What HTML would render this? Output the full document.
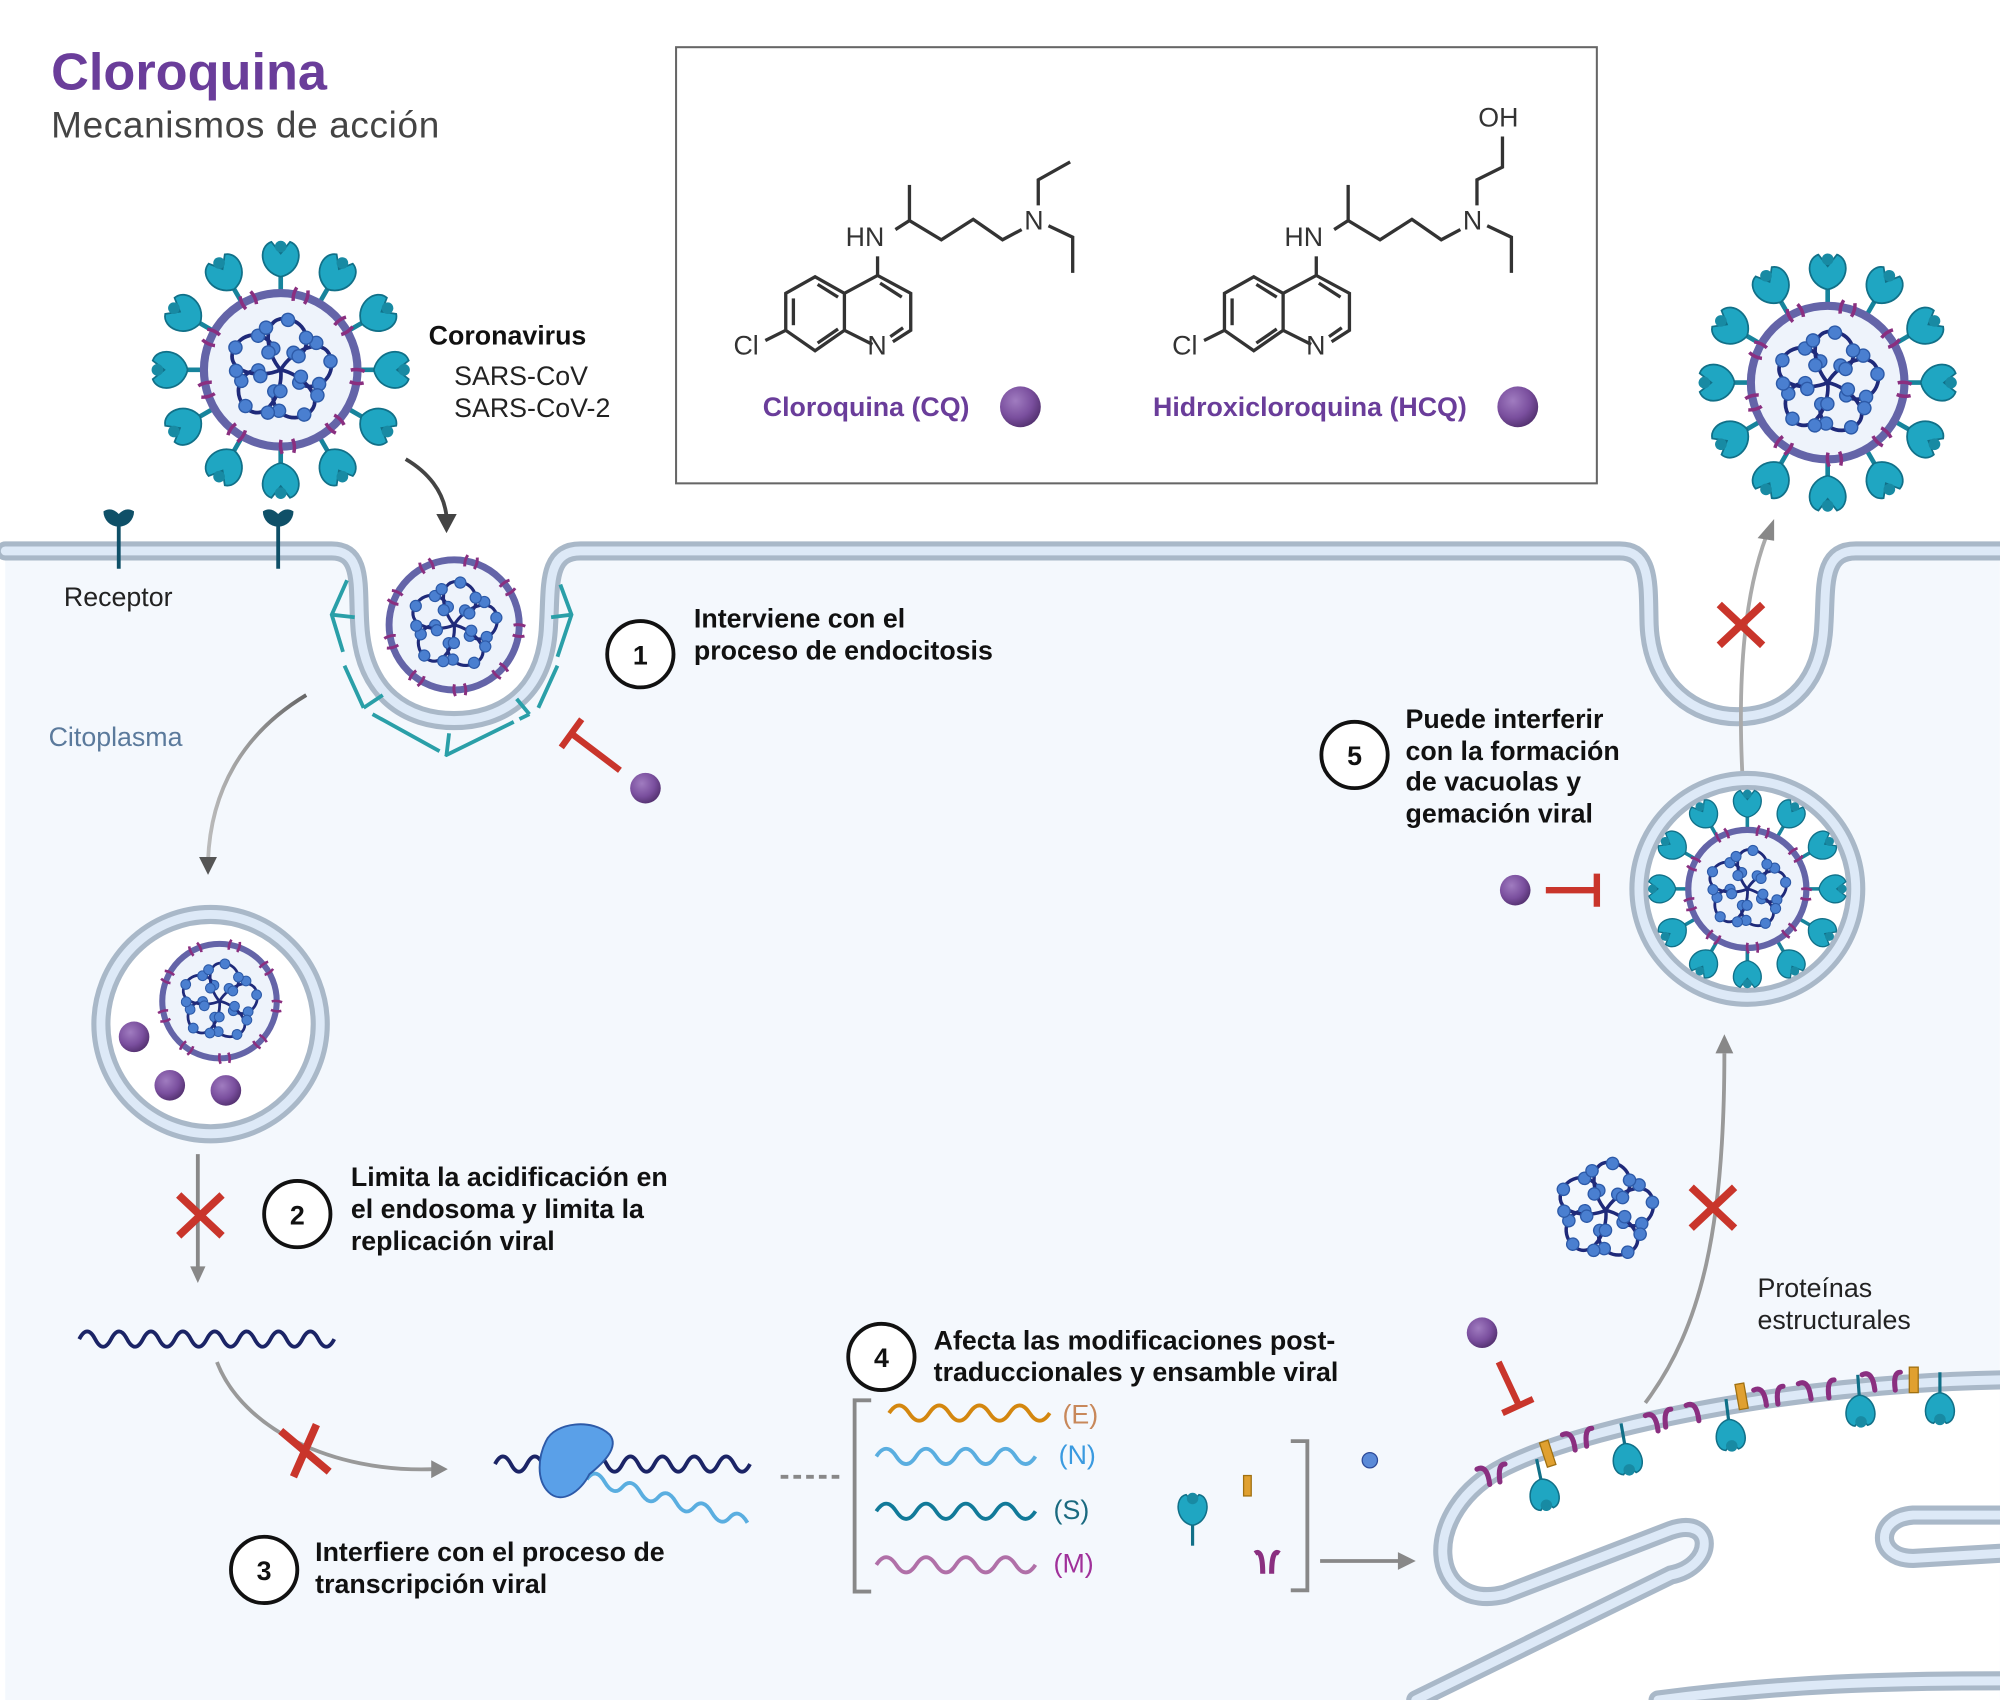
<!DOCTYPE html>
<html><head><meta charset="utf-8"><style>
html,body{margin:0;padding:0;background:#fff}
svg{display:block}
text{font-family:"Liberation Sans",sans-serif}
.b{font-weight:bold;font-size:21px;fill:#111}
.n{font-size:21px;fill:#222}
</style></head><body>
<svg width="2000" height="1700" viewBox="0 0 1568 1333" xmlns="http://www.w3.org/2000/svg">
<defs>
<radialGradient id="ball" cx="0.38" cy="0.35" r="0.7">
<stop offset="0" stop-color="#a07cc0"/><stop offset="0.6" stop-color="#7a4f9e"/><stop offset="1" stop-color="#52306e"/>
</radialGradient>
<linearGradient id="fadeL" x1="0" y1="0" x2="1" y2="0"><stop offset="0" stop-color="#bbb"/><stop offset="1" stop-color="#666"/></linearGradient>
<symbol id="rna" viewBox="-45 -45 90 90">
<g id="pet">
<path d="M0,0 C8,-14 30,-24 35,-9 C39,5 26,16 14,10" stroke="#1f2a7a" stroke-width="2.6" fill="none"/>
<g fill="#4a7fd0" stroke="#2d5aa8" stroke-width="1"><circle cx="9" cy="-12" r="4.6"/><circle cx="25" cy="-19" r="4.6"/><circle cx="35" cy="-6" r="4.6"/><circle cx="27" cy="10" r="4.6"/><circle cx="13" cy="9" r="4.6"/></g>
</g>
<use href="#pet" transform="rotate(72)"/><use href="#pet" transform="rotate(144)"/><use href="#pet" transform="rotate(216)"/><use href="#pet" transform="rotate(288)"/>
</symbol>
<g id="spk">
<line x1="0" y1="-64" x2="0" y2="-86" stroke="#17849c" stroke-width="4"/>
<path d="M0,-80 C-18,-84 -20,-106 -8,-110 L0,-100 L8,-110 C20,-106 18,-84 0,-80Z" fill="#1fa6c2" stroke="#117088" stroke-width="1.5"/>
<circle cx="0" cy="-106" r="5" fill="#188aa3"/>
</g>
<g id="mk"><path d="M-5,-72 q-2,6 0,12 M5,-72 q2,6 0,12" stroke="#8a2f80" stroke-width="3" fill="none"/></g>
<symbol id="bare" viewBox="-75 -75 150 150">
<circle r="66" fill="#eef3fb" stroke="#6464a8" stroke-width="7"/>
<g transform="rotate(15)"><use href="#mk"/><use href="#mk" transform="rotate(40)"/><use href="#mk" transform="rotate(80)"/><use href="#mk" transform="rotate(120)"/><use href="#mk" transform="rotate(160)"/><use href="#mk" transform="rotate(200)"/><use href="#mk" transform="rotate(240)"/><use href="#mk" transform="rotate(280)"/><use href="#mk" transform="rotate(320)"/></g>
<use href="#rna" x="-55" y="-55" width="110" height="110"/>
</symbol>
<symbol id="vir" viewBox="-114 -114 228 228">
<use href="#spk"/><use href="#spk" transform="rotate(30)"/><use href="#spk" transform="rotate(60)"/><use href="#spk" transform="rotate(90)"/><use href="#spk" transform="rotate(120)"/><use href="#spk" transform="rotate(150)"/><use href="#spk" transform="rotate(180)"/><use href="#spk" transform="rotate(210)"/><use href="#spk" transform="rotate(240)"/><use href="#spk" transform="rotate(270)"/><use href="#spk" transform="rotate(300)"/><use href="#spk" transform="rotate(330)"/>
<use href="#bare" x="-75" y="-75" width="150" height="150"/>
</symbol>
<g id="ersp">
<line x1="0" y1="-6" x2="0" y2="12" stroke="#117088" stroke-width="2.5"/>
<path d="M0,10 C-13,12 -15,32 -5,34 L0,28 L5,34 C15,32 13,12 0,10Z" fill="#1fa6c2" stroke="#117088" stroke-width="1.2"/>
<circle cx="0" cy="31" r="4.5" fill="#188aa3"/>
</g>
<g id="mol" stroke="#333" stroke-width="2.6" fill="none">
<polygon points="616,230 639,217 662,230 662,259 639,275 616,259"/>
<polyline points="662,230 688,216 714,230 714,259 700,268"/>
<polyline points="684,270 662,259"/>
<line x1="622" y1="234" x2="622" y2="255"/><line x1="641" y1="223" x2="657" y2="233"/><line x1="641" y1="269" x2="657" y2="258"/>
<line x1="690" y1="222" x2="707" y2="233"/><line x1="708" y1="257" x2="698" y2="264"/>
<line x1="616" y1="259" x2="600" y2="267"/>
<line x1="688" y1="216" x2="688" y2="201"/>
<polyline points="702,180 713,173 738,188 763,172 786,188 801,180"/>
<line x1="713" y1="173" x2="713" y2="145"/>
<polyline points="822,177 841,186 841,214"/>
</g>
</defs>

<path d="M4,432 H260 C285,432 280,460 282,490 C285,545 320,565 356,565 C392,565 428,545 430,490 C432,460 428,432 455,432 H1270 C1295,432 1292,460 1293,490 C1295,540 1330,562 1362,562 C1397,562 1428,540 1430,490 C1432,460 1428,432 1455,432 H1568 V1333 H4 Z" fill="#f4f8fd"/>
<path d="M1568,1082 C1400,1085 1240,1120 1180,1150 C1110,1185 1120,1265 1180,1250 L1310,1200 C1345,1188 1345,1228 1310,1235 L1110,1333 H1568 Z" fill="#fff"/>
<g fill="none" stroke-linecap="round">
<g stroke="#a9b8c8" stroke-width="15">
<path d="M4,432 H260 C285,432 280,460 282,490 C285,545 320,565 356,565 C392,565 428,545 430,490 C432,460 428,432 455,432 H1270 C1295,432 1292,460 1293,490 C1295,540 1330,562 1362,562 C1397,562 1428,540 1430,490 C1432,460 1428,432 1455,432 H1568"/>
<path d="M1568,1082 C1400,1085 1240,1120 1180,1150 C1110,1185 1120,1265 1180,1250 L1310,1200 C1345,1188 1345,1228 1310,1235 L1110,1333"/>
<path d="M1568,1188 L1500,1188 C1470,1190 1470,1222 1500,1222 L1568,1218"/>
<path d="M1300,1333 C1400,1320 1480,1318 1568,1318"/>
</g>
<g stroke="#dde9f7" stroke-width="7">
<path d="M4,432 H260 C285,432 280,460 282,490 C285,545 320,565 356,565 C392,565 428,545 430,490 C432,460 428,432 455,432 H1270 C1295,432 1292,460 1293,490 C1295,540 1330,562 1362,562 C1397,562 1428,540 1430,490 C1432,460 1428,432 1455,432 H1568"/>
<path d="M1568,1082 C1400,1085 1240,1120 1180,1150 C1110,1185 1120,1265 1180,1250 L1310,1200 C1345,1188 1345,1228 1310,1235 L1110,1333"/>
<path d="M1568,1188 L1500,1188 C1470,1190 1470,1222 1500,1222 L1568,1218"/>
<path d="M1300,1333 C1400,1320 1480,1318 1568,1318"/>
</g>
</g>
<g stroke="#2a9fa8" stroke-width="3" fill="none">
<path d="M272,455 L260,482 L270,515 M270,522 L285,555 M292,560 L350,592 L415,560 M422,555 L437,522 M437,515 L448,482 L438,455" stroke-dasharray="60 5"/>
<path d="M260,482 L278,484 M285,555 L300,545 M350,592 L352,575 M415,560 L405,548 M448,482 L432,484"/>
</g>

<text x="40" y="70" style="font-size:41px;font-weight:bold;fill:#6a3d9a">Cloroquina</text>
<text x="40" y="108" style="font-size:29px;fill:#444;letter-spacing:0.5px">Mecanismos de acción</text>

<rect x="530" y="37" width="722" height="342" fill="#fff" stroke="#666" stroke-width="1.6"/>
<use href="#mol"/>
<g stroke="#333" stroke-width="2.6" fill="none"><polyline points="814,161 814,141 839,127"/></g>
<use href="#mol" transform="translate(344,0)"/>
<g stroke="#333" stroke-width="2.6" fill="none"><polyline points="1158,161 1158,141 1178,131 1178,107"/></g>
<g style="font-size:21px;fill:#333">
<text x="575" y="278">Cl</text><text x="680" y="278">N</text><text x="663" y="193">HN</text><text x="803" y="180">N</text>
<text x="919" y="278">Cl</text><text x="1024" y="278">N</text><text x="1007" y="193">HN</text><text x="1147" y="180">N</text>
<text x="1159" y="99">OH</text>
</g>
<text x="598" y="326" class="b" style="fill:#6a3d9a">Cloroquina (CQ)</text>
<circle cx="800" cy="319" r="16" fill="url(#ball)"/>
<text x="904" y="326" class="b" style="fill:#6a3d9a">Hidroxicloroquina (HCQ)</text>
<circle cx="1190" cy="319" r="16" fill="url(#ball)"/>

<use href="#vir" x="116" y="186" width="208" height="208"/>
<use href="#vir" x="1329" y="196" width="208" height="208"/>
<use href="#bare" x="298" y="432" width="116" height="116"/>
<text x="336" y="270" class="b">Coronavirus</text>
<text x="356" y="302" class="n">SARS-CoV</text>
<text x="356" y="327" class="n">SARS-CoV-2</text>

<g stroke="#0f5068" stroke-width="3" fill="none">
<line x1="93" y1="408" x2="93" y2="446"/><line x1="218" y1="408" x2="218" y2="446"/>
</g>
<path d="M81,401 A12,12 0 0 0 105,401 Q99,397 93,403 Q87,397 81,401Z" fill="#0f5068"/>
<path d="M206,401 A12,12 0 0 0 230,401 Q224,397 218,403 Q212,397 206,401Z" fill="#0f5068"/>
<text x="50" y="475" class="n">Receptor</text>
<text x="38" y="585" style="font-size:21px;fill:#5b7a9c">Citoplasma</text>

<g fill="none" stroke-width="3">
<path d="M318,360 C335,370 348,385 350,405" stroke="#444"/>
<path d="M240,545 C190,575 165,620 163,675" stroke="url(#fadeL)"/>
<path d="M155,905 V995" stroke="#888"/>
<path d="M170,1068 C190,1120 260,1155 340,1152" stroke="#999"/>
<path d="M612,1158 H662" stroke="#888" stroke-dasharray="6 4"/>
<path d="M1035,1224 H1098" stroke="#888"/>
<path d="M1290,1100 C1335,1040 1352,960 1352,826" stroke="#999"/>
<path d="M1366,605 C1362,520 1370,460 1385,420" stroke="#aaa"/>
</g>
<g fill="#444"><path d="M342,403 L358,403 L350,418Z"/></g>
<g fill="#555"><path d="M156,672 L170,672 L163,686Z"/></g>
<g fill="#888"><path d="M149,993 L161,993 L155,1006Z"/><path d="M338,1145 L338,1159 L351,1152Z"/><path d="M1096,1217 L1096,1231 L1110,1224Z"/><path d="M1345,826 L1359,826 L1352,811Z"/><path d="M1378,422 L1391,424 L1391,407Z"/></g>
<g stroke="#c9352b" stroke-width="6">
<path d="M140,937 L174,969 M174,937 L140,969"/>
<path d="M220,1122 L258,1154 M230,1158 L248,1117"/>
<path d="M1348,474 L1382,506 M1382,474 L1348,506"/>
<path d="M1326,931 L1360,963 M1360,931 L1326,963"/>
</g>
<g stroke="#c9352b" stroke-width="5" fill="none">
<path d="M449,576 L486,604 M440,586 L456,564"/>
<path d="M1212,698 H1250 M1252,685 V711"/>
<path d="M1175,1068 L1190,1100 M1178,1108 L1202,1097"/>
</g>
<circle cx="506" cy="618" r="12" fill="url(#ball)"/>
<circle cx="1188" cy="698" r="12" fill="url(#ball)"/>
<circle cx="1162" cy="1045" r="12" fill="url(#ball)"/>

<circle cx="165" cy="803" r="86" fill="#fff" stroke="#a9b8c8" stroke-width="15"/>
<circle cx="165" cy="803" r="86" fill="none" stroke="#dde9f7" stroke-width="7"/>
<use href="#bare" x="121" y="734" width="102" height="102"/>
<circle cx="105" cy="813" r="12" fill="url(#ball)"/><circle cx="133" cy="851" r="12" fill="url(#ball)"/><circle cx="177" cy="855" r="12" fill="url(#ball)"/>

<circle cx="1370" cy="697" r="85" fill="#fff" stroke="#a9b8c8" stroke-width="15"/>
<circle cx="1370" cy="697" r="85" fill="none" stroke="#dde9f7" stroke-width="7"/>
<use href="#vir" x="1290" y="617" width="160" height="160"/>

<use href="#rna" x="1212" y="902" width="94" height="94"/>

<g fill="#fff" stroke="#111" stroke-width="3">
<circle cx="502" cy="513" r="26"/><circle cx="233" cy="952" r="26"/><circle cx="207" cy="1231" r="26"/><circle cx="691" cy="1064" r="26"/><circle cx="1062" cy="592" r="26"/>
</g>
<g class="b" text-anchor="middle" style="font-weight:bold;font-size:21px">
<text x="502" y="521">1</text><text x="233" y="960">2</text><text x="207" y="1239">3</text><text x="691" y="1072">4</text><text x="1062" y="600">5</text>
</g>
<text class="b"><tspan x="544" y="492">Interviene con el</tspan><tspan x="544" y="517">proceso de endocitosis</tspan></text>
<text class="b"><tspan x="275" y="930">Limita la acidificación en</tspan><tspan x="275" y="955">el endosoma y limita la</tspan><tspan x="275" y="980">replicación viral</tspan></text>
<text class="b"><tspan x="247" y="1224">Interfiere con el proceso de</tspan><tspan x="247" y="1249">transcripción viral</tspan></text>
<text class="b"><tspan x="732" y="1058">Afecta las modificaciones post-</tspan><tspan x="732" y="1083">traduccionales  y ensamble viral</tspan></text>
<text class="b"><tspan x="1102" y="571">Puede interferir</tspan><tspan x="1102" y="596">con la formación</tspan><tspan x="1102" y="620">de vacuolas y</tspan><tspan x="1102" y="645">gemación viral</tspan></text>
<text class="n"><tspan x="1378" y="1017">Proteínas</tspan><tspan x="1378" y="1042">estructurales</tspan></text>

<g fill="none" stroke-width="3">
<path d="M62,1050 q6.25,-12 12.5,0 t12.5,0 t12.5,0 t12.5,0 t12.5,0 t12.5,0 t12.5,0 t12.5,0 t12.5,0 t12.5,0 t12.5,0 t12.5,0 t12.5,0 t12.5,0 t12.5,0 t12.5,0" stroke="#1b2466"/>
<path d="M388,1148 q6.25,-12 12.5,0 t12.5,0 t12.5,0 t12.5,0 t12.5,0 t12.5,0 t12.5,0 t12.5,0 t12.5,0 t12.5,0 t12.5,0 t12.5,0 t12.5,0 t12.5,0 t12.5,0 t12.5,0" stroke="#1b2466"/>
<path d="M460,1160 q7,-10 14,2 t14,4 t14,4 t14,4 t14,4 t14,4 t14,4 t14,4 t14,4" stroke="#5aaee0"/>
<path d="M697,1108 q7.9,-12 15.75,0 t15.75,0 t15.75,0 t15.75,0 t15.75,0 t15.75,0 t15.75,0 t15.75,0" stroke="#d4870f"/>
<path d="M687,1142 q7.8,-12 15.6,0 t15.6,0 t15.6,0 t15.6,0 t15.6,0 t15.6,0 t15.6,0 t15.6,0" stroke="#5aaee0"/>
<path d="M687,1185 q7.8,-12 15.6,0 t15.6,0 t15.6,0 t15.6,0 t15.6,0 t15.6,0 t15.6,0 t15.6,0" stroke="#117a99"/>
<path d="M687,1227 q7.8,-12 15.6,0 t15.6,0 t15.6,0 t15.6,0 t15.6,0 t15.6,0 t15.6,0 t15.6,0" stroke="#b070a8"/>
</g>
<path d="M428,1130 C435,1115 465,1112 478,1125 C486,1135 472,1148 462,1156 C455,1170 440,1180 430,1170 C420,1160 422,1142 428,1130Z" fill="#5aa0e8" stroke="#2d5aa8" stroke-width="1.5"/>
<g style="font-size:21px">
<text x="833" y="1116" style="fill:#c8885a">(E)</text>
<text x="830" y="1148" style="fill:#3a9ae0">(N)</text>
<text x="826" y="1191" style="fill:#1a6a80">(S)</text>
<text x="826" y="1233" style="fill:#a0309a">(M)</text>
</g>
<g stroke="#888" stroke-width="3" fill="none">
<path d="M683,1098 H670 V1248 H683"/><path d="M1012,1130 H1025 V1247 H1012"/>
</g>
<use href="#ersp" transform="translate(935,1200) rotate(180) translate(0,-6)"/>
<rect x="975" y="1157" width="6" height="16" fill="#e0a030" stroke="#a07010"/>
<path d="M984,1218 q6,-4 6,16 M1003,1218 q-6,-4 -6,16" stroke="#8a2f80" stroke-width="4" fill="none"/>
<circle cx="1074" cy="1145" r="6" fill="#5a8ad8" stroke="#2d4a98"/>

<g stroke="#8a2f80" stroke-width="4" fill="none" stroke-linecap="round">
<path d="M1158,1152 q8,-4 10,12"/><path d="M1180,1148 q-6,0 -4,14"/>
<path d="M1225,1125 q8,-4 10,12"/><path d="M1248,1120 q-6,0 -4,14"/>
<path d="M1290,1110 q8,-4 10,12"/><path d="M1310,1105 q-6,0 -4,14"/><path d="M1322,1102 q8,-4 10,12"/>
<path d="M1375,1090 q8,-4 10,12"/><path d="M1398,1087 q-6,0 -4,14"/><path d="M1410,1085 q8,-4 10,12"/><path d="M1438,1082 q-6,0 -4,14"/>
<path d="M1460,1078 q8,-4 10,12"/><path d="M1490,1076 q-6,0 -4,14"/>
</g>
<g fill="#e0a030" stroke="#a07010" stroke-width="1"><rect x="1210" y="1130" width="7" height="20" transform="rotate(-18 1213 1140)"/><rect x="1362" y="1085" width="7" height="20" transform="rotate(-10 1365 1095)"/><rect x="1497" y="1072" width="7" height="20"/></g>
<use href="#ersp" transform="translate(1206,1150) rotate(-12)"/>
<use href="#ersp" transform="translate(1272,1122) rotate(-10)"/>
<use href="#ersp" transform="translate(1354,1103) rotate(-7)"/>
<use href="#ersp" transform="translate(1457,1084) rotate(-4)"/>
<use href="#ersp" transform="translate(1521,1082)"/>
</svg>
</body></html>
